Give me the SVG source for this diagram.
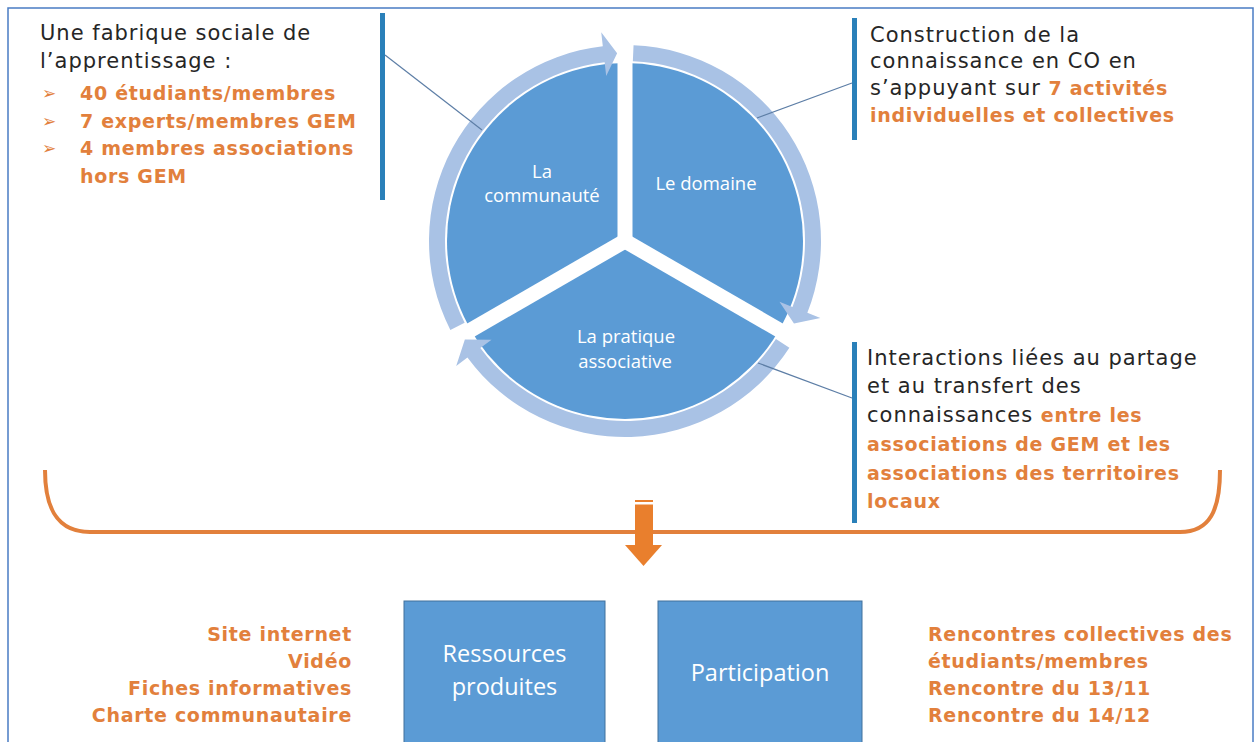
<svg xmlns="http://www.w3.org/2000/svg" width="1258" height="742" viewBox="0 0 1258 742">
  <style>
    .t { font-family: "DejaVu Sans", "Liberation Sans", sans-serif; font-size: 21px; fill: #262626; letter-spacing: 1px; }
    .o { font-family: "DejaVu Sans", "Liberation Sans", sans-serif; font-size: 19px; font-weight: bold; fill: #e2803c; letter-spacing: 0.7px; }
    .ob { font-weight: bold; fill: #e2803c; font-size: 19px; letter-spacing: 0.7px; }
    .bul { font-family: "DejaVu Sans", sans-serif; font-size: 17px; fill: #e2803c; }
    .pl { font-family: "Open Sans", "Noto Sans", sans-serif; font-size: 18.5px; fill: #ffffff; text-anchor: middle; }
    .bx { font-family: "Open Sans", "Noto Sans", sans-serif; font-size: 23.5px; fill: #ffffff; text-anchor: middle; }
    .bar { fill: #2a80b9; }
    .lead { stroke: #5d7ea6; stroke-width: 1.2; fill: none; }
    .ring { fill: #a9c2e5; }
    .box { fill: #5b9bd5; stroke: #41719c; stroke-width: 1; }
  </style>

  <rect x="0" y="0" width="1258" height="742" fill="#ffffff"/>
  <rect x="8" y="8" width="1245" height="780" fill="none" stroke="#4a7cc4" stroke-width="1.5"/>

  <!-- Cycle -->
  <g id="cycle">
    <circle cx="625" cy="241" r="178" fill="#5b9bd5"/>
    <g stroke="#ffffff" stroke-width="15" stroke-linecap="butt">
      <line x1="625" y1="241" x2="625" y2="60"/>
      <line x1="625" y1="241" x2="781.7" y2="331.5"/>
      <line x1="625" y1="241" x2="468.3" y2="331.5"/>
    </g>
    <path class="ring" d="M 450.36 329.98 A 196 196 0 0 1 602.81 46.26 L 601.23 32.35 L 617.13 53.17 L 606.21 76.07 L 604.62 62.16 A 180 180 0 0 0 464.62 322.72 Z"/>
    <path class="ring" d="M 633.55 45.19 A 196 196 0 0 1 807.36 312.83 L 820.39 317.97 L 793.97 323.41 L 779.45 301.84 L 792.48 306.97 A 180 180 0 0 0 632.85 61.17 Z"/>
    <path class="ring" d="M 789.38 347.75 A 196 196 0 0 1 467.44 357.58 L 456.19 365.91 L 464.86 339.51 L 491.56 339.74 L 480.31 348.07 A 180 180 0 0 0 775.96 339.04 Z"/>
  </g>
  <g id="node-communaute">
    <text class="pl" x="542" y="178">La</text>
    <text class="pl" x="542" y="202">communauté</text>
  </g>
  <g id="node-domaine">
    <text class="pl" x="706" y="190">Le domaine</text>
  </g>
  <g id="node-pratique">
    <text class="pl" x="626" y="343">La pratique</text>
    <text class="pl" x="625" y="368">associative</text>
  </g>

  <!-- Callouts -->
  <g id="callout-left">
    <rect class="bar" x="380" y="13" width="5" height="187"/>
    <text class="t" x="40" y="40">Une fabrique sociale de</text>
    <text class="t" x="40" y="68">l’apprentissage :</text>
    <text class="bul" x="42" y="99">➢</text>
    <text class="o" x="80" y="100">40 étudiants/membres</text>
    <text class="bul" x="42" y="127">➢</text>
    <text class="o" x="80" y="128">7 experts/membres GEM</text>
    <text class="bul" x="42" y="154">➢</text>
    <text class="o" x="80" y="155">4 membres associations</text>
    <text class="o" x="80" y="183">hors GEM</text>
  </g>
  <g id="callout-top-right">
    <rect class="bar" x="852" y="18" width="5" height="122"/>
    <text class="t" x="870" y="42">Construction de la</text>
    <text class="t" x="870" y="68">connaissance en CO en</text>
    <text class="t" x="870" y="95">s’appuyant sur <tspan class="ob">7 activités</tspan></text>
    <text class="o" x="870" y="122">individuelles  et collectives</text>
  </g>
  <g id="callout-bottom-right">
    <rect class="bar" x="852" y="342" width="5" height="181"/>
    <text class="t" x="867" y="365">Interactions liées au partage</text>
    <text class="t" x="867" y="393">et au transfert des</text>
    <text class="t" x="867" y="422">connaissances <tspan class="ob">entre les</tspan></text>
    <text class="o" x="867" y="451">associations  de GEM et les</text>
    <text class="o" x="867" y="480">associations  des territoires</text>
    <text class="o" x="867" y="508">locaux</text>
  </g>

  <!-- Connectors -->
  <g id="connectors">
    <line class="lead" x1="385" y1="55" x2="482" y2="130"/>
    <line class="lead" x1="757" y1="118" x2="852" y2="83"/>
    <line class="lead" x1="758" y1="363" x2="852" y2="398"/>
    <path d="M 45 470 C 45 510 58 532 90 532 L 1180 532 C 1210 532 1220 510 1220 470" fill="none" stroke="#e2803c" stroke-width="4" stroke-linecap="butt"/>
    <rect x="635" y="500" width="18" height="2" fill="#e97f2d"/>
    <rect x="635" y="504.5" width="18" height="41" fill="#e97f2d"/>
    <polygon points="625,545 662,545 643.5,566" fill="#e97f2d"/>
  </g>

  <!-- Bottom boxes -->
  <g id="node-ressources">
    <rect class="box" x="404" y="601" width="201" height="160"/>
    <text class="bx" x="504.5" y="662">Ressources</text>
    <text class="bx" x="504.5" y="695">produites</text>
  </g>
  <g id="node-participation">
    <rect class="box" x="658" y="601" width="204" height="160"/>
    <text class="bx" x="760" y="681">Participation</text>
  </g>
  <g id="list-ressources">
    <text class="o" x="352" y="641" text-anchor="end">Site internet</text>
    <text class="o" x="352" y="668" text-anchor="end">Vidéo</text>
    <text class="o" x="352" y="695" text-anchor="end">Fiches informatives</text>
    <text class="o" x="352" y="722" text-anchor="end">Charte communautaire</text>
  </g>
  <g id="list-participation">
    <text class="o" x="928" y="641">Rencontres collectives des</text>
    <text class="o" x="928" y="668">étudiants/membres</text>
    <text class="o" x="928" y="695">Rencontre du 13/11</text>
    <text class="o" x="928" y="722">Rencontre du 14/12</text>
  </g>
</svg>
